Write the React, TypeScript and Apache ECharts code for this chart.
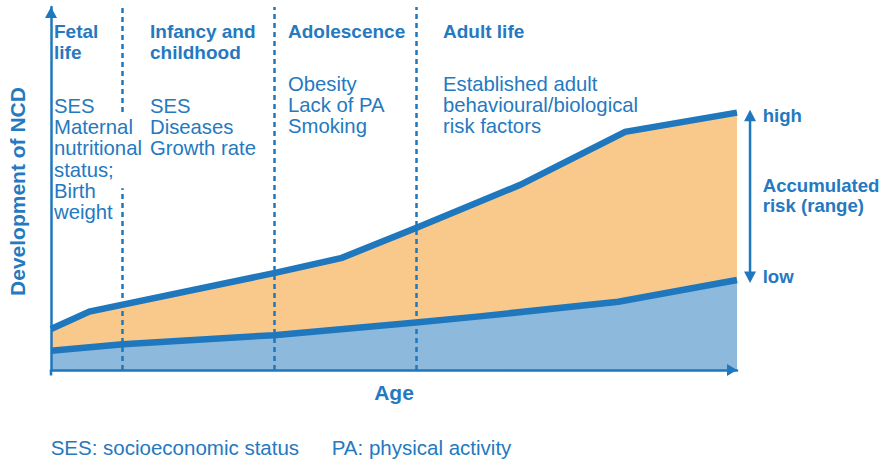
import React, { useEffect, useRef } from "react";
import * as echarts from "echarts";

// Upper curve (high accumulated risk) – age (0-100) vs development (0-100)
const ageHigh = [0, 5.6, 32.5, 42.4, 53.2, 68.4, 83.7, 100];
const riskHigh = [11.3, 16.1, 26.7, 30.9, 39.1, 51.0, 65.6, 70.9];
// Lower curve (low accumulated risk)
const ageLow = [0, 10.5, 32.5, 53.2, 62.1, 82.7, 100];
const riskLow = [5.3, 7.1, 9.6, 13.1, 14.7, 18.8, 24.8];
// Life-stage boundaries on the age axis
const stageBounds = [10.45, 32.5, 53.2];
const stageTitles = ["Fetal\nlife", "Infancy and\nchildhood", "Adolescence", "Adult life"];
const stageFactors = [
  "SES\nMaternal\nnutritional\nstatus;\nBirth\nweight",
  "SES\nDiseases\nGrowth rate",
  "Obesity\nLack of PA\nSmoking",
  "Established adult\nbehavioural/biological\nrisk factors",
];
const rangeLabels = ["high", "Accumulated\nrisk (range)", "low"];
const footnotes = ["SES: socioeconomic status", "PA: physical activity"];
const xTitle = "Age";
const yTitle = "Development of NCD";

export default function App() {
  const ref = useRef<HTMLDivElement>(null);
  useEffect(() => {
    document.body.style.margin = "0";
    const chart = echarts.init(ref.current!, undefined, { renderer: "svg" });
    const FONT = '"Liberation Sans", Arial, Helvetica, sans-serif';
    const BLUE = "#1f77bd";
    const TEXT = "#2479c0";

    const dashData: any[] = [];
    stageBounds.forEach((b, i) => {
      if (i === 0) {
        dashData.push([{ coord: [b, 0] }, { coord: [b, 50.1] }]);
        dashData.push([{ coord: [b, 71.1] }, { coord: [b, 100] }]);
      } else {
        dashData.push([{ coord: [b, 0] }, { coord: [b, 100] }]);
      }
    });

    const axisCommon = {
      type: "value" as const,
      min: 0,
      max: 100,
      z: 5,
      axisTick: { show: false },
      axisLabel: { show: false },
      splitLine: { show: false },
    };

    chart.setOption({
      animation: false,
      textStyle: { fontFamily: FONT },
      grid: { left: 51, right: 146, top: 7, bottom: 93 },
      xAxis: {
        ...axisCommon,
        name: xTitle,
        nameLocation: "middle",
        nameGap: 11.5,
        nameTextStyle: { color: TEXT, fontSize: 21, fontWeight: "bold", fontFamily: FONT },
        axisLine: {
          lineStyle: { color: BLUE, width: 2.5 },
          symbol: ["none", "triangle"],
          symbolSize: [12, 10],
          symbolOffset: [0, -5],
        },
      },
      yAxis: {
        ...axisCommon,
        axisLine: {
          lineStyle: { color: BLUE, width: 2.5 },
          symbol: ["none", "triangle"],
          symbolSize: [12, 11],
          symbolOffset: [0, -5.5],
        },
      },
      series: [
        {
          type: "line",
          data: ageHigh.map((x, i) => [x, riskHigh[i]]),
          symbol: "none",
          lineStyle: { color: BLUE, width: 6.5, join: "miter" },
          areaStyle: { color: "#f9c98b", opacity: 1 },
          z: 2,
        },
        {
          type: "line",
          data: ageLow.map((x, i) => [x, riskLow[i]]),
          symbol: "none",
          lineStyle: { color: BLUE, width: 6.5, join: "miter" },
          areaStyle: { color: "#8db9dc", opacity: 1 },
          z: 3,
          markLine: {
            silent: true,
            z: 5,
            symbol: ["none", "none"],
            label: { show: false },
            lineStyle: { color: BLUE, width: 2.5, type: [5, 4] },
            data: dashData,
          },
        },
      ],
    });

    const lastHigh = chart.convertToPixel({ gridIndex: 0 }, [101.9, riskHigh[riskHigh.length - 1]]) as number[];
    const lastLow = chart.convertToPixel({ gridIndex: 0 }, [101.9, riskLow[riskLow.length - 1]]) as number[];
    const origin = chart.convertToPixel({ gridIndex: 0 }, [0, 0]) as number[];
    const ax = lastHigh[0];
    const topTip = lastHigh[1] - 3;
    const botTip = lastLow[1] + 3;

    const titleX = [54, 150, 288, 443];
    const factorTop = [95.1, 95.1, 73.1, 73.1];
    const graphics: any[] = [];
    stageTitles.forEach((t, i) => {
      graphics.push({
        type: "text",
        x: titleX[i],
        y: 20.9,
        style: { text: t, fill: TEXT, fontSize: 19, fontWeight: "bold", fontFamily: FONT, lineHeight: 21, verticalAlign: "top", align: "left" },
      });
      graphics.push({
        type: "text",
        x: titleX[i],
        y: factorTop[i],
        style: { text: stageFactors[i], fill: TEXT, fontSize: 20.3, fontFamily: FONT, lineHeight: 21.3, verticalAlign: "top", align: "left" },
      });
    });
    graphics.push({
      type: "text",
      x: 17.7,
      y: 191.5,
      rotation: Math.PI / 2,
      style: { text: yTitle, fill: TEXT, fontSize: 21, fontWeight: "bold", fontFamily: FONT, align: "center", verticalAlign: "middle" },
    });
    // small extension of the y axis below the x axis
    graphics.push({ type: "line", shape: { x1: origin[0], y1: origin[1], x2: origin[0], y2: origin[1] + 5.5 }, style: { stroke: BLUE, lineWidth: 2.5 } });
    // range arrow
    graphics.push({ type: "line", shape: { x1: ax, y1: topTip + 8, x2: ax, y2: botTip - 8 }, style: { stroke: BLUE, lineWidth: 2.5 } });
    graphics.push({ type: "polygon", shape: { points: [[ax, topTip], [ax - 6, topTip + 11.5], [ax + 6, topTip + 11.5]] }, style: { fill: BLUE } });
    graphics.push({ type: "polygon", shape: { points: [[ax, botTip], [ax - 6, botTip - 11.5], [ax + 6, botTip - 11.5]] }, style: { fill: BLUE } });
    graphics.push({ type: "text", x: 762.7, y: 115.3, style: { text: rangeLabels[0], fill: TEXT, fontSize: 18.6, fontWeight: "bold", fontFamily: FONT, verticalAlign: "middle", align: "left" } });
    graphics.push({ type: "text", x: 762.7, y: 175.3, style: { text: rangeLabels[1], fill: TEXT, fontSize: 18.6, fontWeight: "bold", fontFamily: FONT, lineHeight: 20, verticalAlign: "top", align: "left" } });
    graphics.push({ type: "text", x: 762.7, y: 276.3, style: { text: rangeLabels[2], fill: TEXT, fontSize: 18.6, fontWeight: "bold", fontFamily: FONT, verticalAlign: "middle", align: "left" } });
    const footX = [50.7, 331.7];
    footnotes.forEach((f, i) => {
      graphics.push({ type: "text", x: footX[i], y: 447.6, style: { text: f, fill: TEXT, fontSize: 20.5, fontFamily: FONT, verticalAlign: "middle", align: "left" } });
    });
    chart.setOption({ graphic: graphics });

    return () => chart.dispose();
  }, []);
  return <div ref={ref} style={{ width: 883, height: 463, position: "absolute", left: 0, top: 0 }} />;
}
